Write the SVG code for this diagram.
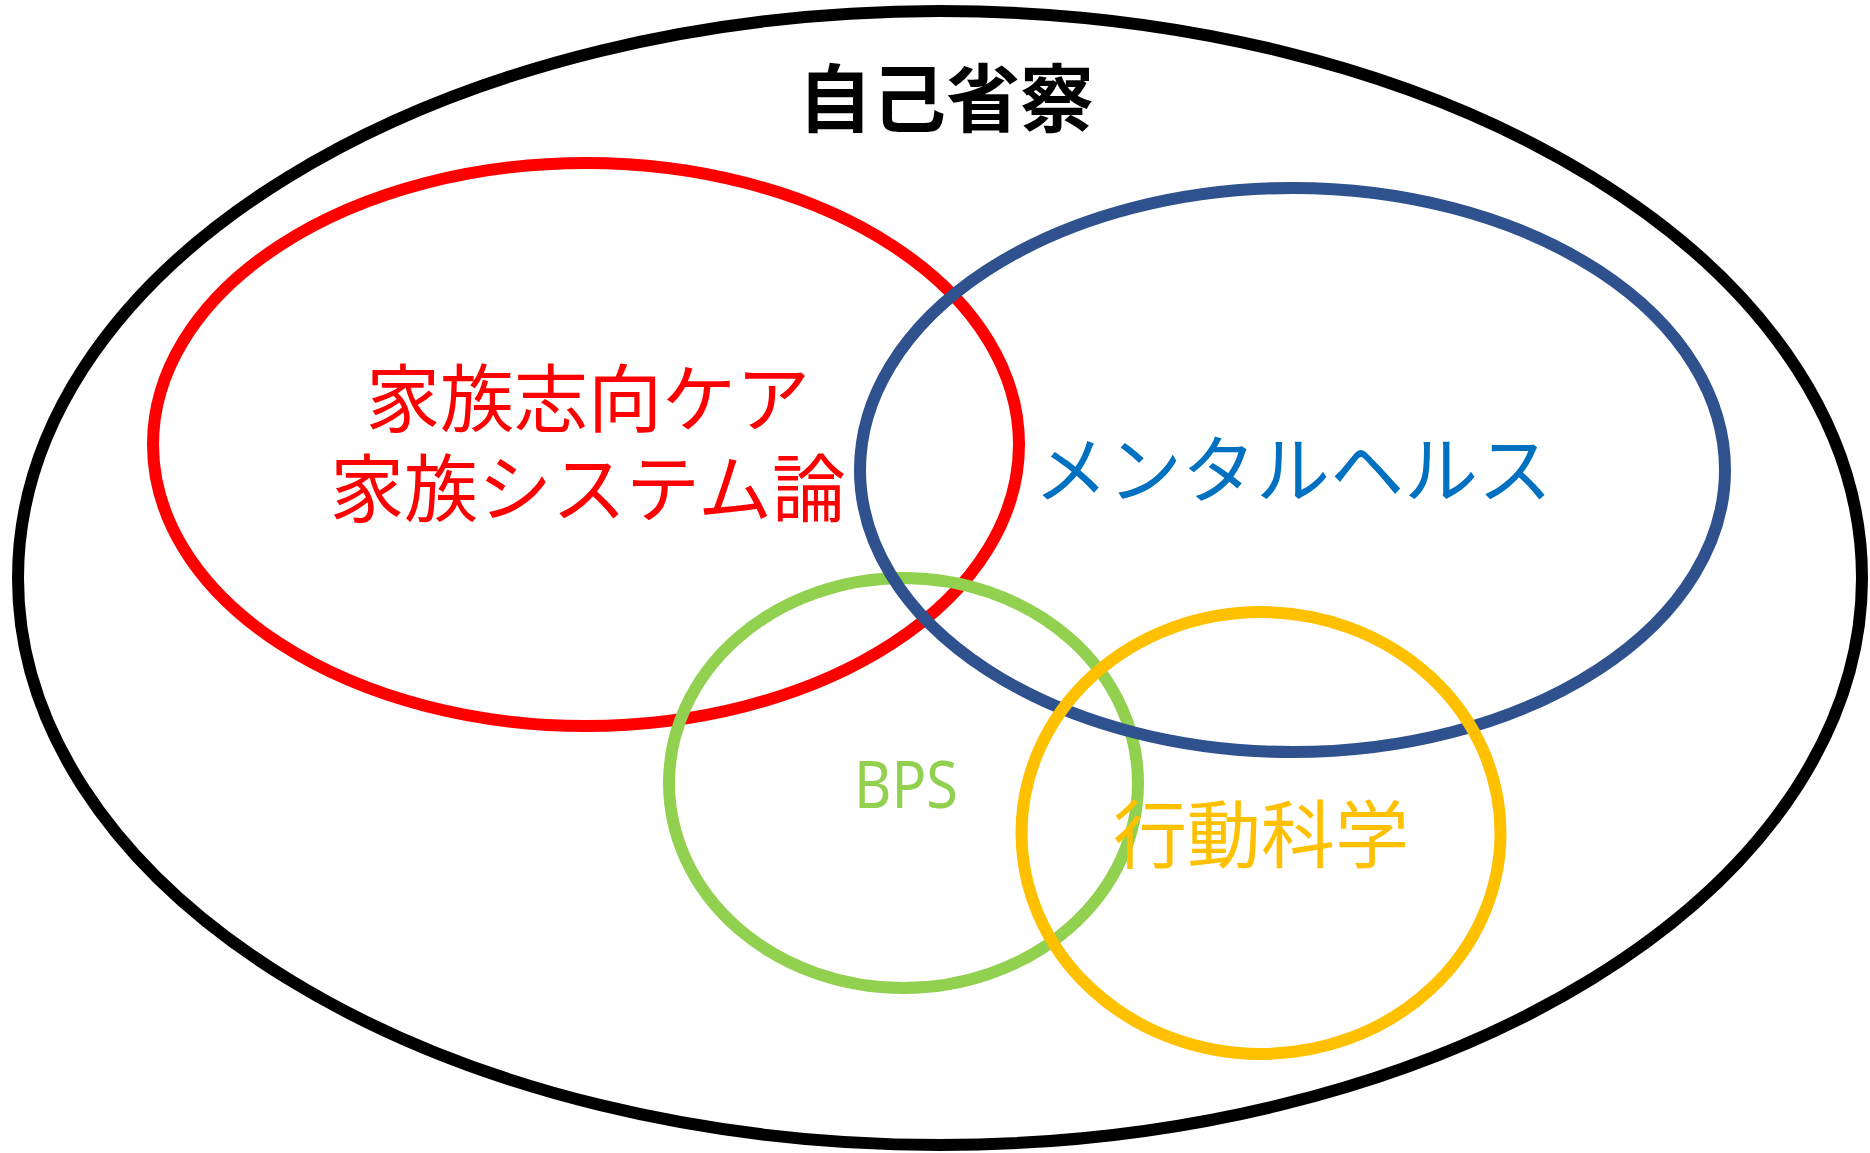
<svg xmlns="http://www.w3.org/2000/svg" width="1870" height="1153" viewBox="0 0 1870 1153">
<style>
.ring{fill:none;stroke-width:12}
.lbl{font-family:"Noto Sans CJK JP","Noto Sans",sans-serif;font-size:74px;text-anchor:middle}
</style>
<rect width="1870" height="1153" fill="#ffffff"/>
<g id="jiko-seisatsu">
<ellipse cx="940" cy="578" rx="922" ry="567" fill="none" stroke="#000000" stroke-width="12"/>
<text class="lbl" x="946" y="126" font-weight="700" fill="#000000">自己省察</text>
</g>
<g id="kazoku">
<ellipse class="ring" cx="586" cy="444.5" rx="433" ry="281.5" stroke="#FF0000" stroke-width="13"/>
<text class="lbl" x="588" y="426" fill="#FF0000">家族志向ケア</text>
<text class="lbl" x="588" y="516" fill="#FF0000">家族システム論</text>
</g>
<g id="bps">
<ellipse class="ring" cx="903.5" cy="783" rx="234.5" ry="205" stroke="#92D050"/>
<text x="906" y="808" font-family="Noto Sans, sans-serif" font-size="66" text-anchor="middle" fill="#92D050" textLength="104" lengthAdjust="spacingAndGlyphs">BPS</text>
</g>
<g id="mental-health">
<ellipse class="ring" cx="1292.5" cy="470" rx="432.5" ry="282" stroke="#2F528F"/>
<text class="lbl" x="1293" y="497" fill="#0070C0">メンタルヘルス</text>
</g>
<g id="kodo-kagaku">
<ellipse class="ring" cx="1261" cy="833" rx="239.5" ry="221" stroke="#FFC000"/>
<text class="lbl" x="1261" y="862" fill="#FFC000">行動科学</text>
</g>
<g id="connectors"/>
</svg>
